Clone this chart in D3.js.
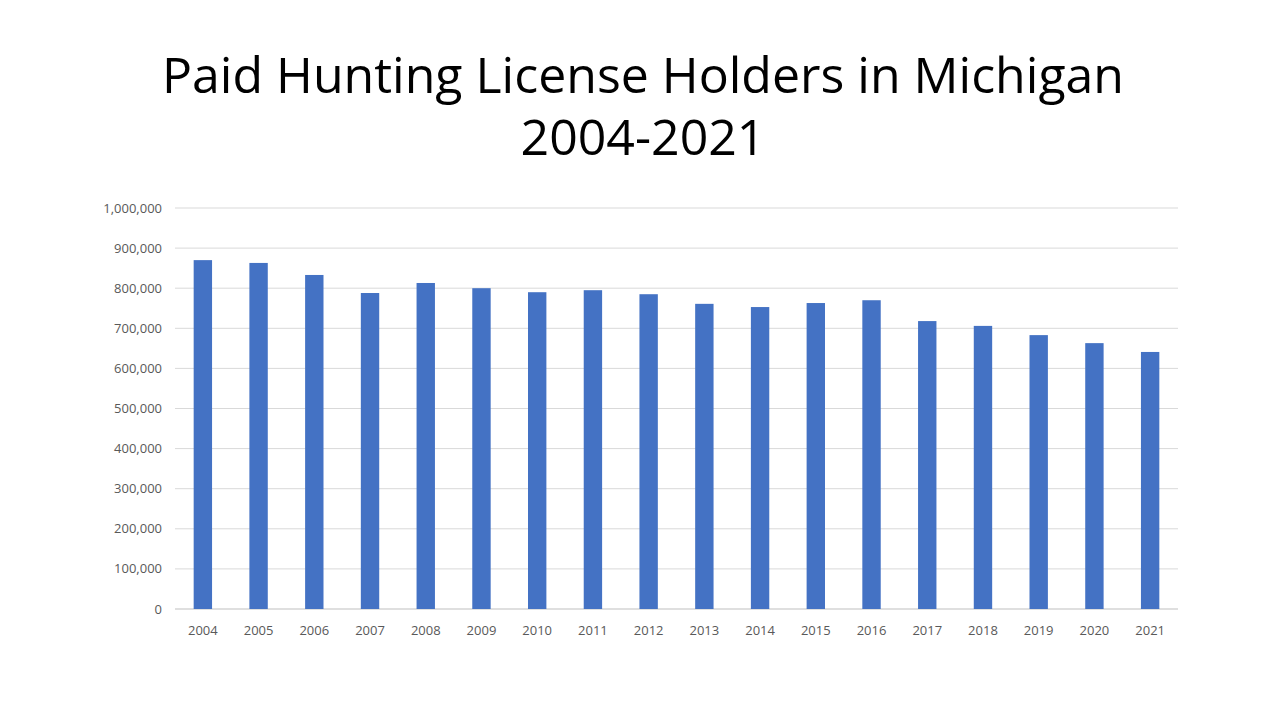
<!DOCTYPE html><html><head><meta charset="utf-8">
<script src="https://cdn.jsdelivr.net/npm/d3@7"></script>
<style>body{margin:0;background:#fff}</style></head><body>
<svg id="c" width="1280" height="720"></svg>
<script>
const years=["2004","2005","2006","2007","2008","2009","2010","2011","2012","2013","2014","2015","2016","2017","2018","2019","2020","2021"];
const holders=[870000,863000,833000,788000,813000,800000,790000,795000,785000,761000,753000,763000,770000,718000,706000,683000,663000,641000];
const yTicks=[0,100000,200000,300000,400000,500000,600000,700000,800000,900000,1000000];
const svg=d3.select("#c");
const L=175,R=1178,T=208,B=609;
const x=d3.scaleBand().domain(years).range([L,R]).paddingInner(0.67).paddingOuter(0.335);
const y=d3.scaleLinear().domain([0,1000000]).range([B,T]);
svg.append("text").attr("x",643).attr("y",93).attr("text-anchor","middle").attr("font-family","Open Sans, sans-serif").attr("font-size",50).text("Paid Hunting License Holders in Michigan");
svg.append("text").attr("x",643).attr("y",155).attr("text-anchor","middle").attr("font-family","Open Sans, sans-serif").attr("font-size",50).text("2004-2021");
const g=svg.append("g").attr("font-family","Open Sans, sans-serif");
g.selectAll("line.g").data(yTicks).join("line").attr("x1",L).attr("x2",R).attr("y1",d=>y(d)).attr("y2",d=>y(d)).attr("stroke",d=>d===0?"#bfbfbf":"#d9d9d9");
g.selectAll("text.y").data(yTicks).join("text").attr("x",162).attr("y",d=>y(d)+4.5).attr("text-anchor","end").attr("font-size",13).attr("fill","#595959").text(d=>d3.format(",")(d));
g.selectAll("rect").data(holders).join("rect").attr("x",(d,i)=>x(years[i])).attr("width",x.bandwidth()).attr("y",d=>y(d)).attr("height",d=>B-y(d)).attr("fill","#4472c4");
g.selectAll("text.x").data(years).join("text").attr("x",d=>x(d)+x.bandwidth()/2).attr("y",635).attr("text-anchor","middle").attr("font-size",13).attr("fill","#595959").text(d=>d);
</script></body></html>
